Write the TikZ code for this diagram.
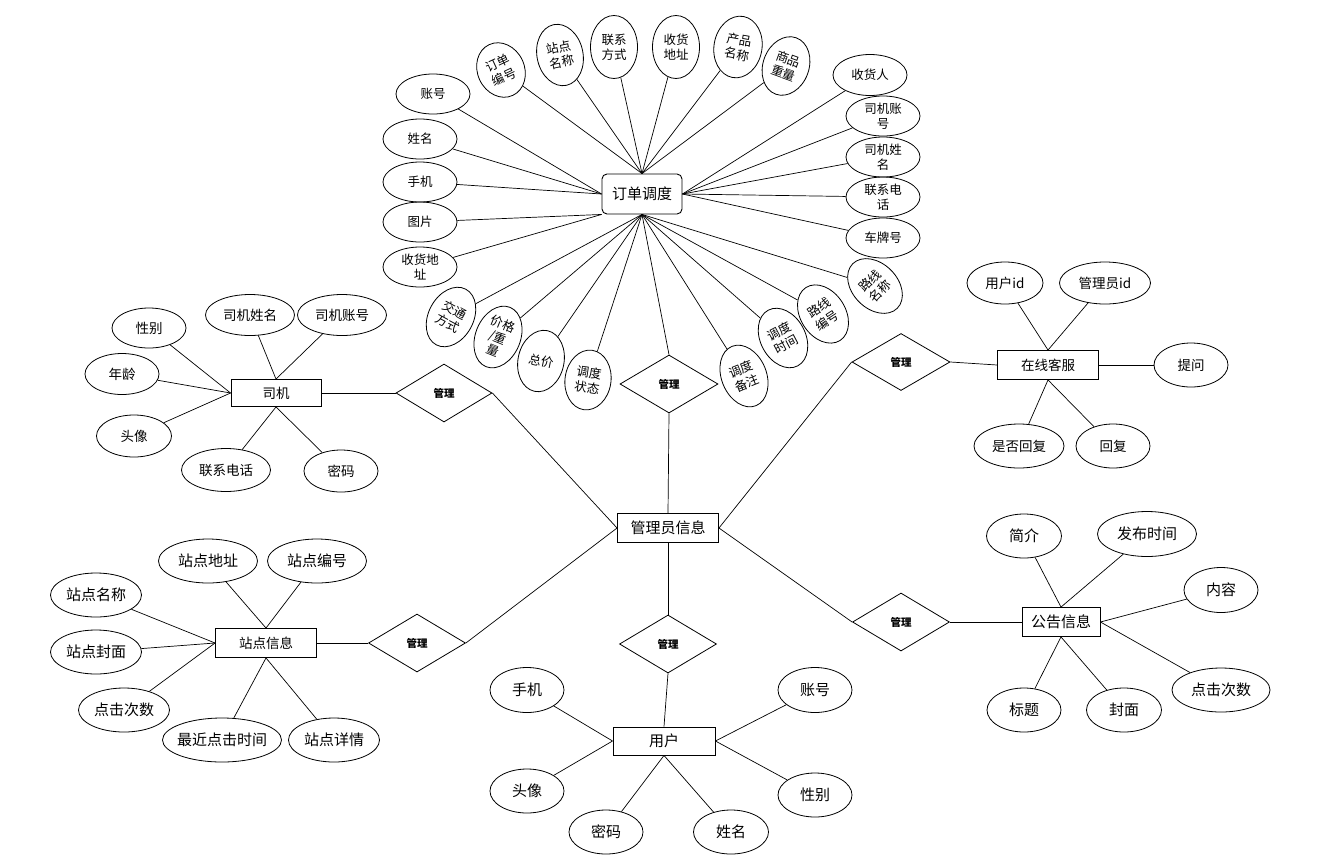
\documentclass[tikz,border=0pt]{standalone}
\usepackage{fontspec}
\setmainfont{Noto Sans CJK SC}
\usetikzlibrary{shapes.geometric}
\tikzset{
  attr/.style={ellipse, draw, line width=0.8pt, inner sep=-10pt, align=center},
  esz/.style 2 args={minimum width=#1pt, minimum height=#2pt},
  ent/.style={rectangle, draw, line width=0.9pt, inner sep=0pt},
  rel/.style={diamond, draw, line width=0.8pt, inner sep=0pt, minimum width=97pt, minimum height=58pt, font=\bfseries\fontsize{10.5}{12}\selectfont},
  conn/.style={draw, line width=0.7pt},
  fa/.style={font=\fontsize{12.5}{15}\selectfont},
  fb/.style={font=\fontsize{13.5}{16}\selectfont},
  fc/.style={font=\fontsize{15}{18}\selectfont},
  fe/.style={font=\fontsize{15}{18}\selectfont},
}
\begin{document}
\begin{tikzpicture}[x=1pt,y=-1pt]
\useasboundingbox (0,0) rectangle (1334,860);
% ---------- order cluster ----------
\node[ent, rounded corners=5pt, minimum width=80pt, minimum height=40pt, fe] (order) at (642,194) {订单调度};
\begin{scope}[every node/.style={attr, fa}]
\node[esz={74}{40}] (o1) at (433,94) {账号};
\node[esz={74}{40}] (o2) at (420,139) {姓名};
\node[esz={74}{40}] (o3) at (420,182) {手机};
\node[esz={74}{40}] (o4) at (420,222) {图片};
\node[esz={74}{40}] (o5) at (420,267) {收货地\\址};
\node[esz={47}{56}, rotate=25] (o6) at (501,70) {订单\\编号};
\node[esz={46}{62}, rotate=12] (o7) at (560,55) {站点\\名称};
\node[esz={47}{63}] (o8) at (614,47) {联系\\方式};
\node[esz={47}{63}] (o9) at (676,47) {收货\\地址};
\node[esz={48}{62}, rotate=-10] (o10) at (738,47) {产品\\名称};
\node[esz={46}{60}, rotate=-20] (o11) at (786,66) {商品\\重量};
\node[esz={74}{41}] (o12) at (870,75) {收货人};
\node[esz={74}{40}] (o13) at (883,116) {司机账\\号};
\node[esz={74}{40}] (o14) at (883,157) {司机姓\\名};
\node[esz={74}{40}] (o15) at (883,197) {联系电\\话};
\node[esz={74}{40}] (o16) at (883,238) {车牌号};
\node[esz={45}{63}, rotate=45] (o17) at (875,286) {路线\\名称};
\node[esz={45}{63}, rotate=33] (o18) at (823,314) {路线\\编号};
\node[esz={45}{63}, rotate=28] (o19) at (783,338) {调度\\时间};
\node[esz={45}{64}, rotate=22] (o20) at (744,376) {调度\\备注};
\node[esz={45}{63}, rotate=-28] (o21) at (451,317) {交通\\方式};
\node[esz={45}{64}, rotate=-22, font=\fontsize{12.5}{14}\selectfont] (o22) at (498,337) {价格\\/重\\量};
\node[esz={46}{62}, rotate=-12] (o23) at (541,361) {总价};
\node[esz={46}{60}, rotate=-8] (o24) at (588,380) {调度\\状态};
\end{scope}
\foreach \i in {6,...,11} \draw[conn] (o\i) -- (order.north);
\foreach \i in {1,2,3} \draw[conn] (o\i) -- (order.west);
\foreach \i in {4,5} \draw[conn] (o\i) -- (order.south west);
\foreach \i in {12,...,16} \draw[conn] (o\i) -- (order.east);
\foreach \i in {17,...,24} \draw[conn] (o\i) -- (order.south);
% ---------- central ----------
\node[ent, minimum width=101pt, minimum height=29pt, fe] (admin) at (668,528) {管理员信息};
\node[rel, minimum width=98pt] (r0) at (669,384) {管理};
\draw[conn] (r0.north) -- (order.south);
\draw[conn] (r0.south) -- (admin.north);
% ---------- driver ----------
\node[ent, minimum width=90pt, minimum height=27pt, fb] (driver) at (276,393) {司机};
\begin{scope}[every node/.style={attr, fb}]
\node[esz={74}{40}] (d1) at (149,328) {性别};
\node[esz={74}{41}] (d2) at (122,374) {年龄};
\node[esz={75}{42}] (d3) at (134,436) {头像};
\node[esz={89}{43}] (d4) at (226,470) {联系电话};
\node[esz={74}{42}] (d5) at (341,471) {密码};
\node[esz={89}{41}] (d6) at (250,315) {司机姓名};
\node[esz={89}{41}] (d7) at (342,315) {司机账号};
\end{scope}
\foreach \i in {1,2,3} \draw[conn] (d\i) -- (driver.west);
\foreach \i in {6,7} \draw[conn] (d\i) -- (driver.north);
\foreach \i in {4,5} \draw[conn] (d\i) -- (driver.south);
\node[rel, minimum width=96pt] (r1) at (444,393) {管理};
\draw[conn] (driver.east) -- (r1.west);
\draw[conn] (r1.east) -- (admin.west);
% ---------- station ----------
\node[ent, minimum width=101pt, minimum height=29pt, fb] (station) at (266,643) {站点信息};
\begin{scope}[every node/.style={attr, fc}]
\node[esz={91}{44}] (s1) at (96,595) {站点名称};
\node[esz={91}{44}] (s2) at (96,652) {站点封面};
\node[esz={91}{44}] (s3) at (124,710) {点击次数};
\node[esz={99}{44}] (s4) at (208,561) {站点地址};
\node[esz={99}{44}] (s5) at (317,561) {站点编号};
\node[esz={119}{44}] (s6) at (222,740) {最近点击时间};
\node[esz={91}{44}] (s7) at (334,740) {站点详情};
\end{scope}
\foreach \i in {1,2,3} \draw[conn] (s\i) -- (station.west);
\foreach \i in {4,5} \draw[conn] (s\i) -- (station.north);
\foreach \i in {6,7} \draw[conn] (s\i) -- (station.south);
\node[rel] (r2) at (417,643) {管理};
\draw[conn] (station.east) -- (r2.west);
\draw[conn] (r2.east) -- (admin.west);
% ---------- user ----------
\node[rel] (r3) at (668,644) {管理};
\node[ent, minimum width=102pt, minimum height=28pt, fe] (user) at (664,741) {用户};
\draw[conn] (admin.south) -- (r3.north);
\draw[conn] (r3.south) -- (user.north);
\begin{scope}[every node/.style={attr, fc}]
\node[esz={74}{45}] (u1) at (527,690) {手机};
\node[esz={74}{44}] (u2) at (527,791) {头像};
\node[esz={74}{44}] (u3) at (606,832) {密码};
\node[esz={75}{44}] (u4) at (731,832) {姓名};
\node[esz={74}{45}] (u5) at (815,690) {账号};
\node[esz={74}{44}] (u6) at (815,795) {性别};
\end{scope}
\foreach \i in {1,2} \draw[conn] (u\i) -- (user.west);
\foreach \i in {3,4} \draw[conn] (u\i) -- (user.south);
\foreach \i in {5,6} \draw[conn] (u\i) -- (user.east);
% ---------- online service ----------
\node[rel, minimum width=98pt, minimum height=57pt] (r4) at (901,362) {管理};
\node[ent, minimum width=101pt, minimum height=29pt, fb] (online) at (1048,365) {在线客服};
\draw[conn] (admin.east) -- (r4.west);
\draw[conn] (r4.east) -- (online.west);
\begin{scope}[every node/.style={attr, fb}]
\node[esz={76}{42}] (c1) at (1005,283) {用户id};
\node[esz={91}{42}] (c2) at (1105,283) {管理员id};
\node[esz={74}{44}] (c3) at (1191,365) {提问};
\node[esz={90}{44}] (c4) at (1019,446) {是否回复};
\node[esz={74}{44}] (c5) at (1113,446) {回复};
\end{scope}
\foreach \i in {1,2} \draw[conn] (c\i) -- (online.north);
\draw[conn] (c3) -- (online.east);
\foreach \i in {4,5} \draw[conn] (c\i) -- (online.south);
% ---------- notice ----------
\node[rel] (r5) at (901,622) {管理};
\node[ent, minimum width=78pt, minimum height=29pt, fe] (notice) at (1061,622) {公告信息};
\draw[conn] (admin.east) -- (r5.west);
\draw[conn] (r5.east) -- (notice.west);
\begin{scope}[every node/.style={attr, fc}]
\node[esz={75}{44}] (n1) at (1024,536) {简介};
\node[esz={99}{45}] (n2) at (1147,534) {发布时间};
\node[esz={74}{45}] (n3) at (1221,590) {内容};
\node[esz={98}{44}] (n4) at (1221,690) {点击次数};
\node[esz={74}{44}] (n5) at (1024,710) {标题};
\node[esz={75}{44}] (n6) at (1124,710) {封面};
\end{scope}
\foreach \i in {1,2} \draw[conn] (n\i) -- (notice.north);
\foreach \i in {3,4} \draw[conn] (n\i) -- (notice.east);
\foreach \i in {5,6} \draw[conn] (n\i) -- (notice.south);
\end{tikzpicture}
\end{document}
